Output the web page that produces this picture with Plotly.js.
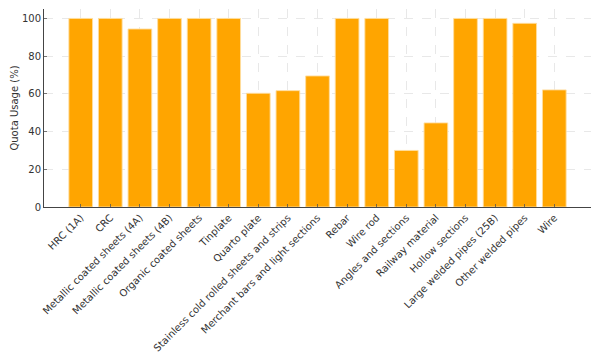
<!DOCTYPE html>
<html>
<head>
<meta charset="utf-8">
<script src="https://cdn.plot.ly/plotly-3.0.1.min.js"></script>
<style>html,body{margin:0;padding:0;background:#fff}#chart{width:600px;height:360px}</style>
</head>
<body>
<div id="chart"></div>
<script>
const categories = [
  "HRC (1A)", "CRC", "Metallic coated sheets (4A)", "Metallic coated sheets (4B)",
  "Organic coated sheets", "Tinplate", "Quarto plate", "Stainless cold rolled sheets and strips",
  "Merchant bars and light sections", "Rebar", "Wire rod", "Angles and sections",
  "Railway material", "Hollow sections", "Large welded pipes (25B)", "Other welded pipes", "Wire"
];
const quotaUsage = [100, 100, 94.4, 100, 100, 100, 60.3, 61.7, 69.5, 100, 100, 30.0, 44.6, 100, 100, 97.4, 62.1];
const yTicks = [0, 20, 40, 60, 80, 100];

const font = "DejaVu Sans, sans-serif";
const n = categories.length;
const trace = {
  type: "bar",
  x: categories.map((_, i) => i),
  y: quotaUsage,
  width: 0.8,
  marker: {color: "#FFA500", line: {color: "rgba(255,222,160,0.9)", width: 1}},
  hoverinfo: "skip"
};
const pad = (n - 1 + 0.8) * 0.05;
const layout = {
  width: 600, height: 360,
  margin: {l: 44, r: 9, t: 9, b: 153},
  paper_bgcolor: "#fff", plot_bgcolor: "#fff",
  showlegend: false,
  font: {family: font, size: 10, color: "#333"},
  xaxis: {
    range: [-0.4 - pad, n - 1 + 0.4 + pad],
    tickmode: "array",
    tickvals: categories.map((_, i) => i),
    ticktext: categories,
    tickangle: -45,
    tickfont: {family: font, size: 10, color: "#333"},
    ticks: "inside", ticklen: 3, tickcolor: "#555", tickwidth: 0.8,
    showline: true, linecolor: "#444", linewidth: 1,
    showgrid: true, gridcolor: "#e2e2e2", griddash: "dash", gridwidth: 0.8,
    zeroline: false
  },
  yaxis: {
    range: [0, 105],
    tickmode: "array",
    tickvals: yTicks,
    ticktext: yTicks.map(String),
    tickfont: {family: font, size: 10, color: "#333"},
    ticks: "inside", ticklen: 3, tickcolor: "#555", tickwidth: 0.8,
    showline: true, linecolor: "#444", linewidth: 1,
    showgrid: true, gridcolor: "#e2e2e2", griddash: "dash", gridwidth: 0.8,
    zeroline: false,
    title: {text: "Quota Usage (%)", font: {family: font, size: 10, color: "#333"}, standoff: 1}
  }
};
Plotly.newPlot("chart", [trace], layout, {displayModeBar: false, staticPlot: true});
</script>
</body>
</html>
